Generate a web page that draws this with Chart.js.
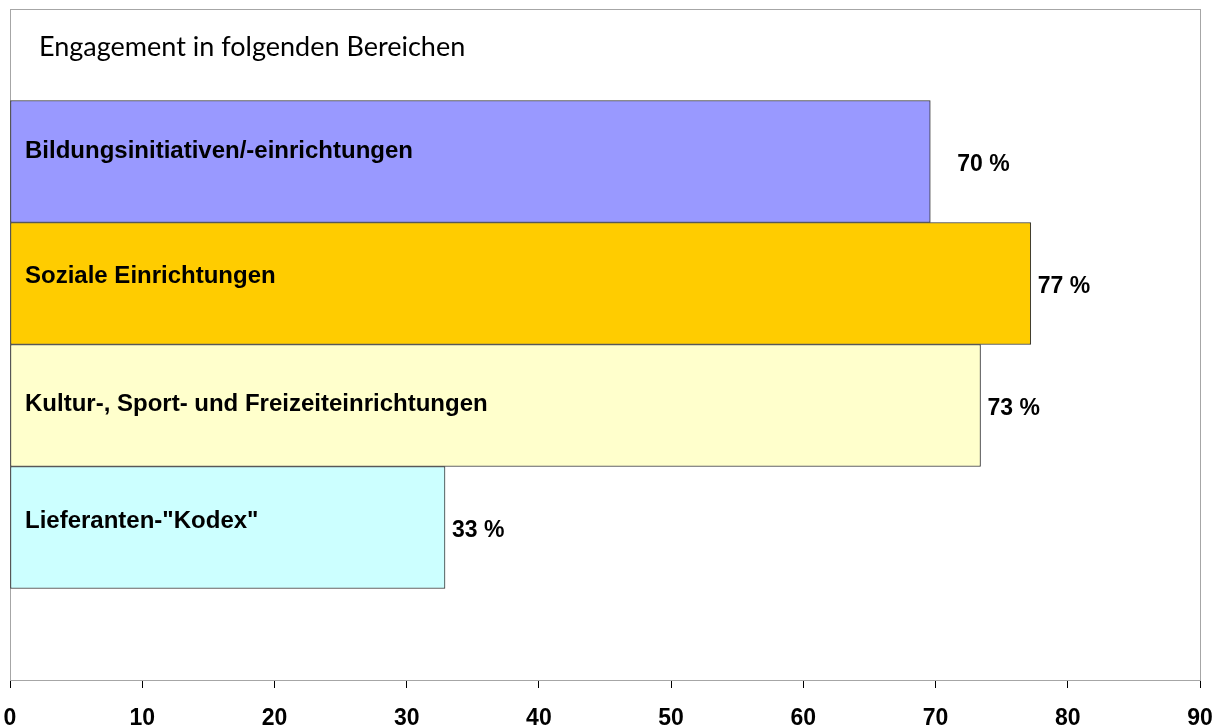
<!DOCTYPE html>
<html>
<head>
<meta charset="utf-8">
<script src="https://cdn.jsdelivr.net/npm/chart.js@4/dist/chart.umd.min.js"></script>
<style>
  html, body { margin: 0; padding: 0; background: #fff; }
  #wrap { width: 1221px; height: 727px; }
</style>
</head>
<body>
<div id="wrap"><canvas id="engagement"></canvas></div>
<script>
// data
const categories = [
    'Bildungsinitiativen/-einrichtungen',
    'Soziale Einrichtungen',
    'Kultur-, Sport- und Freizeiteinrichtungen',
    'Lieferanten-"Kodex"'
];
const shares = [69.6, 77.2, 73.4, 32.9];
const shareLabels = ['70 %', '77 %', '73 %', '33 %'];
const barColors = ['#9999ff', '#ffcc00', '#ffffcc', '#ccffff'];
const xTicks = [0, 10, 20, 30, 40, 50, 60, 70, 80, 90];
const title = 'Engagement in folgenden Bereichen';

const labelFont = 'bold 24px "Liberation Sans", Arial, sans-serif';
const valueFont = 'bold 23px "Liberation Sans", Arial, sans-serif';

// gray frame around the plot area + the title
const framePlugin = {
    id: 'frame',
    beforeDatasetsDraw(chart) {
        const a = chart.chartArea;
        const ctx = chart.ctx;
        ctx.save();
        ctx.strokeStyle = '#a6a6a6';
        ctx.lineWidth = 1;
        ctx.strokeRect(a.left + 0.5, a.top + 0.5, a.right - a.left, a.bottom - a.top);
        ctx.fillStyle = '#000';
        ctx.font = '27px Lato, "Open Sans", sans-serif';
        ctx.textBaseline = 'middle';
        ctx.fillText(title, a.left + 29, a.top + 38);
        ctx.restore();
    }
};

// category names inside the bars, values right of them
const barTextPlugin = {
    id: 'barText',
    afterDatasetsDraw(chart) {
        const ctx = chart.ctx;
        const meta = chart.getDatasetMeta(0);
        const nameShift = [-10, -7, -1, -6];
        ctx.save();
        ctx.fillStyle = '#000';
        ctx.textBaseline = 'middle';
        ctx.textAlign = 'left';
        meta.data.forEach((bar, i) => {
            ctx.font = labelFont;
            ctx.fillText(categories[i], chart.chartArea.left + 15, bar.y + nameShift[i]);
            const gap = i === 0 ? 27 : 7;
            ctx.font = valueFont;
            ctx.fillText(shareLabels[i], bar.x + gap, bar.y + 3);
        });
        ctx.restore();
    }
};

const ctx = document.getElementById('engagement').getContext('2d');
const chart = new Chart(ctx, {
    type: 'bar',
    data: {
        datasets: [{
            data: shares.map((v, i) => ({ x: v, y: i + 1 })),
            backgroundColor: barColors,
            borderColor: '#333',
            borderWidth: 1,
            borderSkipped: false,
            barThickness: 122
        }]
    },
    options: {
        indexAxis: 'y',
        responsive: true,
        maintainAspectRatio: false,
        animation: false,
        layout: { padding: { left: 10, right: 21, top: 9, bottom: 0 } },
        plugins: {
            legend: { display: false },
            tooltip: { enabled: false }
        },
        scales: {
            x: {
                type: 'linear',
                min: 0,
                max: 90,
                afterBuildTicks: (s) => { s.ticks = xTicks.map(v => ({ value: v })); },
                afterFit: (s) => { s.height = 47; s.paddingLeft = 0; s.paddingRight = 0; },
                grid: { drawOnChartArea: false, drawTicks: true, tickLength: 8, color: '#000' },
                border: { display: true, color: '#000', width: 1 },
                ticks: {
                    color: '#000',
                    padding: 17,
                    maxRotation: 0,
                    font: { family: '"Liberation Sans", Arial, sans-serif', size: 23, weight: 'bold' }
                }
            },
            y: {
                type: 'linear',
                reverse: true,
                offset: false,
                min: -0.25,
                max: 5.25,
                display: false
            }
        }
    },
    plugins: [framePlugin, barTextPlugin]
});
</script>
</body>
</html>
